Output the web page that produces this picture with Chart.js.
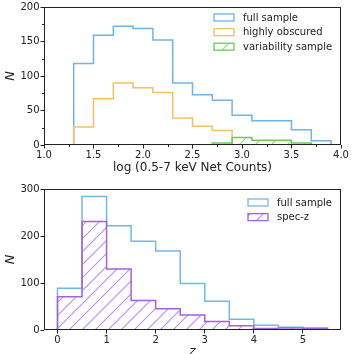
<!DOCTYPE html>
<html>
<head>
<meta charset="utf-8">
<script src="https://cdn.jsdelivr.net/npm/chart.js@4.4.0/dist/chart.umd.min.js"></script>
<style>
  html, body { margin: 0; padding: 0; background: #fff; }
  #wrap { position: relative; width: 353px; height: 354px; overflow: hidden; }
  canvas { position: absolute; left: 0; }
  #top { top: 0; }
  #bottom { top: 178px; }
</style>
</head>
<body>
<div id="wrap">
  <canvas id="top" width="353" height="178"></canvas>
  <canvas id="bottom" width="353" height="182"></canvas>
</div>
<script>
// top panel: net counts histograms
const fullEdges = [1.3, 1.5, 1.7, 1.9, 2.1, 2.3, 2.5, 2.7, 2.9, 3.1, 3.3, 3.5, 3.7, 3.9];
const fullCounts = [118, 159, 172, 169, 152, 90, 73, 65, 43, 35, 35, 22, 6];
const obscuredEdges = [1.3, 1.5, 1.7, 1.9, 2.1, 2.3, 2.5, 2.7, 2.9];
const obscuredCounts = [26, 67, 90, 83, 76, 39, 27, 21];
const varEdges = [2.7, 2.9, 3.1, 3.3, 3.5, 3.7];
const varCounts = [3, 11, 7, 7, 3];
const countTicks = [1.0, 1.5, 2.0, 2.5, 3.0, 3.5, 4.0];
const countMinor = [1.25, 1.75, 2.25, 2.75, 3.25, 3.75];
const nTicksTop = [0, 50, 100, 150, 200];
const nMinorTop = [25, 75, 125, 175];

// bottom panel: redshift histograms
const zEdges = [0, 0.5, 1, 1.5, 2, 2.5, 3, 3.5, 4, 4.5, 5, 5.5];
const zFull = [89, 284, 222, 189, 168, 99, 61, 23, 10, 6, 4];
const zSpec = [71, 231, 130, 63, 45, 32, 18, 9, 3, 4, 3];
const zTicks = [0, 1, 2, 3, 4, 5];
const nTicksBottom = [0, 100, 200, 300];

const FONT = '"DejaVu Sans", sans-serif';
const INK = '#222';

// outline of a step histogram, built from edges + counts
function steps(edges, counts) {
  const pts = [{ x: edges[0], y: 0 }];
  counts.forEach((c, i) => {
    pts.push({ x: edges[i], y: c });
    pts.push({ x: edges[i + 1], y: c });
  });
  pts.push({ x: edges[edges.length - 1], y: 0 });
  return pts;
}

function hatch(color, size) {
  const c = document.createElement('canvas');
  c.width = c.height = size;
  const g = c.getContext('2d');
  g.strokeStyle = color;
  g.lineWidth = 1.1;
  g.beginPath();
  g.moveTo(0, size); g.lineTo(size, 0);
  g.moveTo(-2, 2); g.lineTo(2, -2);
  g.moveTo(size - 2, size + 2); g.lineTo(size + 2, size - 2);
  g.stroke();
  return g.createPattern(c, 'repeat');
}

const framePlugin = {
  id: 'frame',
  afterDraw(chart, args, o) {
    const { ctx, chartArea: a, scales } = chart;
    ctx.save();
    ctx.strokeStyle = INK;
    ctx.lineWidth = 1;
    ctx.beginPath();
    (o.minorX || []).forEach(v => {
      const px = Math.round(scales.x.getPixelForValue(v)) + 0.5;
      ctx.moveTo(px, a.bottom); ctx.lineTo(px, a.bottom + 2);
    });
    (o.minorY || []).forEach(v => {
      const py = Math.round(scales.y.getPixelForValue(v)) + 0.5;
      ctx.moveTo(a.left, py); ctx.lineTo(a.left - 2, py);
    });
    ctx.stroke();
    ctx.strokeRect(a.left + 0.5, a.top + 0.5, a.right - a.left - 1, a.bottom - a.top - 1);
    ctx.restore();
  }
};

const boxLegend = {
  id: 'boxLegend',
  afterDraw(chart, args, o) {
    const ctx = chart.ctx;
    ctx.save();
    chart.data.datasets.forEach((ds, i) => {
      const y = o.y + i * o.dy;
      if (ds.fill) {
        ctx.fillStyle = ds.backgroundColor;
        ctx.fillRect(o.x, y - 3.5, 20, 7);
      }
      ctx.strokeStyle = ds.borderColor;
      ctx.lineWidth = 1.3;
      ctx.strokeRect(o.x, y - 3.5, 20, 7);
      ctx.fillStyle = INK;
      ctx.font = '10px ' + FONT;
      ctx.textBaseline = 'middle';
      ctx.fillText(ds.label, o.x + 29, y + 0.5);
    });
    ctx.restore();
  }
};

function histSet(label, edges, counts, color, pattern, order) {
  return {
    label: label,
    data: steps(edges, counts),
    borderColor: color,
    borderWidth: 1.5,
    backgroundColor: pattern || 'transparent',
    fill: pattern ? 'origin' : false,
    pointRadius: 0,
    tension: 0,
    order: order
  };
}

function axis(ticks, min, max, fmt, fit, title) {
  return {
    type: 'linear',
    min: min,
    max: max,
    afterBuildTicks: s => { s.ticks = ticks.map(v => ({ value: v })); },
    afterFit: fit,
    ticks: {
      callback: fmt,
      autoSkip: false,
      maxRotation: 0,
      padding: 1,
      color: INK,
      font: { family: FONT, size: 10 }
    },
    grid: { drawOnChartArea: false, tickLength: 3.5, tickColor: INK, tickWidth: 1 },
    border: { display: false },
    title: title
  };
}

new Chart(document.getElementById('top'), {
  type: 'line',
  data: {
    datasets: [
      histSet('full sample', fullEdges, fullCounts, '#6db5ea', null, 3),
      histSet('highly obscured', obscuredEdges, obscuredCounts, '#f4c062', null, 2),
      histSet('variability sample', varEdges, varCounts, '#6ec95a', hatch('#8fdc7c', 16), 1)
    ]
  },
  options: {
    responsive: false,
    animation: false,
    layout: { padding: { left: 0, right: 12, top: 5, bottom: 0 } },
    plugins: {
      legend: { display: false },
      tooltip: { enabled: false },
      frame: { minorX: countMinor, minorY: nMinorTop },
      boxLegend: { x: 214, y: 17.5, dy: 14.6 }
    },
    scales: {
      x: axis(countTicks, 1, 4, v => v.toFixed(1), s => { s.height = 33; }, {
        display: true, text: 'log (0.5-7 keV Net Counts)', color: INK,
        font: { family: FONT, size: 12, lineHeight: 1.2 }, padding: { top: 0, bottom: 3 }
      }),
      y: axis(nTicksTop, 0, 200, v => v, s => { s.width = 44; }, {
        display: true, text: 'N', color: INK,
        font: { family: FONT, size: 13, style: 'italic', lineHeight: 1.2 }, padding: { top: 3, bottom: 0 }
      })
    }
  },
  plugins: [framePlugin, boxLegend]
});

new Chart(document.getElementById('bottom'), {
  type: 'line',
  data: {
    datasets: [
      histSet('full sample', zEdges, zFull, '#72b8ec', null, 2),
      histSet('spec-z', zEdges, zSpec, '#a460e2', hatch('#b98ef0', 13), 1)
    ]
  },
  options: {
    responsive: false,
    animation: false,
    layout: { padding: { left: 0, right: 12, top: 11, bottom: 0 } },
    plugins: {
      legend: { display: false },
      tooltip: { enabled: false },
      frame: {},
      boxLegend: { x: 248, y: 24.5, dy: 14.6 }
    },
    scales: {
      x: axis(zTicks, -0.275, 5.775, v => v, s => { s.height = 30; }, {
        display: true, text: 'z', color: INK,
        font: { family: FONT, size: 12, style: 'italic', lineHeight: 1.2 }, padding: { top: 0, bottom: 1 }
      }),
      y: axis(nTicksBottom, 0, 300, v => v, s => { s.width = 44; }, {
        display: true, text: 'N', color: INK,
        font: { family: FONT, size: 13, style: 'italic', lineHeight: 1.2 }, padding: { top: 3, bottom: 0 }
      })
    }
  },
  plugins: [framePlugin, boxLegend]
});
</script>
</body>
</html>
